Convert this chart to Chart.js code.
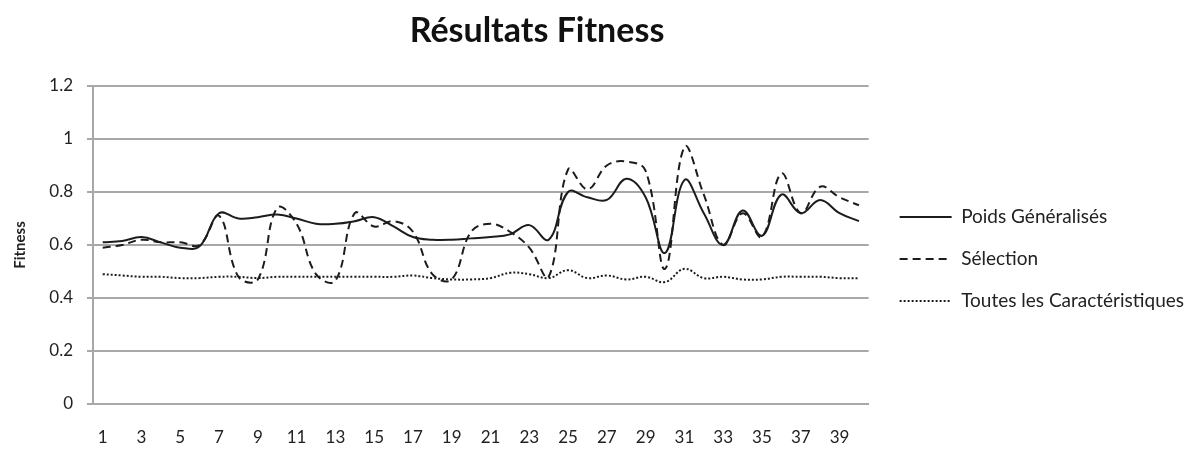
<!DOCTYPE html>
<html>
<head>
<meta charset="utf-8">
<script src="https://cdn.jsdelivr.net/npm/chart.js@4.4.0/dist/chart.umd.min.js"></script>
<style>
  body { margin: 0; background: #fff; }
  canvas { display: block; }
</style>
</head>
<body>
<canvas id="myChart" width="1194" height="450"></canvas>
<script>
const titleText = 'Résultats Fitness';
const yTitle = 'Fitness';

const labels = ['1','2','3','4','5','6','7','8','9','10',
                '11','12','13','14','15','16','17','18','19','20',
                '21','22','23','24','25','26','27','28','29','30',
                '31','32','33','34','35','36','37','38','39','40'];

const poidsGeneralises = [0.61, 0.615, 0.63, 0.61, 0.59, 0.595, 0.72, 0.70, 0.705, 0.715,
                          0.70, 0.68, 0.68, 0.69, 0.705, 0.67, 0.63, 0.62, 0.62, 0.625,
                          0.63, 0.64, 0.675, 0.62, 0.80, 0.78, 0.77, 0.85, 0.78, 0.57,
                          0.845, 0.72, 0.60, 0.73, 0.635, 0.79, 0.72, 0.77, 0.72, 0.69];

const selection = [0.59, 0.60, 0.62, 0.61, 0.61, 0.60, 0.71, 0.48, 0.47, 0.74,
                   0.68, 0.49, 0.465, 0.72, 0.67, 0.69, 0.65, 0.49, 0.47, 0.65,
                   0.68, 0.65, 0.59, 0.48, 0.885, 0.81, 0.90, 0.915, 0.88, 0.51,
                   0.97, 0.79, 0.60, 0.72, 0.63, 0.87, 0.72, 0.82, 0.78, 0.75];

const toutesCaracteristiques = [0.49, 0.485, 0.48, 0.48, 0.475, 0.475, 0.48, 0.48, 0.475, 0.48,
                                0.48, 0.48, 0.48, 0.48, 0.48, 0.48, 0.485, 0.475, 0.47, 0.47,
                                0.475, 0.495, 0.49, 0.475, 0.505, 0.475, 0.485, 0.47, 0.48, 0.46,
                                0.51, 0.475, 0.48, 0.47, 0.47, 0.48, 0.48, 0.48, 0.475, 0.475];

const seriesNames = ['Poids Généralisés', 'Sélection', 'Toutes les Caractéristiques'];
const seriesDash = [[], [8, 5], [2, 2]];

const lineColor = '#1c1c1c';
const gridColor = '#a8a8a8';
const fontName = 'Lato, "Liberation Sans", sans-serif';

// titre dessiné à la main, décalé comme dans l'original
const titlePlugin = {
    id: 'titreFitness',
    afterDraw(chart) {
        const ctx = chart.ctx;
        ctx.save();
        ctx.font = 'bold 34px ' + fontName;
        ctx.fillStyle = '#111';
        ctx.textAlign = 'center';
        ctx.textBaseline = 'middle';
        ctx.fillText(titleText, 537, 31);
        ctx.restore();
    }
};

const data = {
    labels: labels,
    datasets: [0, 1, 2].map(i => ({
        label: seriesNames[i],
        data: [poidsGeneralises, selection, toutesCaracteristiques][i],
        borderColor: lineColor,
        borderWidth: 2,
        borderDash: seriesDash[i]
    }))
};

const config = {
    type: 'line',
    data: data,
    plugins: [titlePlugin],
    options: {
        responsive: false,
        animation: false,
        layout: { padding: { top: 86, left: 7, right: 0, bottom: 0 } },
        elements: {
            line: { tension: 0.4, fill: false, backgroundColor: 'transparent' },
            point: { radius: 0 }
        },
        plugins: {
            tooltip: { enabled: false },
            legend: {
                position: 'right',
                fullSize: false,
                maxWidth: 340,
                title: { display: true, text: ' ', padding: 0, font: { size: 20, lineHeight: 1.4 } },
                labels: {
                    usePointStyle: true,
                    pointStyle: 'line',
                    pointStyleWidth: 52,
                    color: '#222',
                    padding: 23,
                    font: { family: fontName, size: 19 },
                    generateLabels(chart) {
                        const items = Chart.defaults.plugins.legend.labels.generateLabels(chart);
                        items.forEach((it, i) => {
                            it.lineDash = seriesDash[i];
                            it.strokeStyle = lineColor;
                            it.lineWidth = 2;
                        });
                        return items;
                    }
                }
            }
        },
        scales: {
            x: {
                offset: true,
                grid: { display: false },
                border: { display: true, color: gridColor, width: 2 },
                afterFit: (scale) => { scale.height = 46; },
                ticks: {
                    autoSkip: false,
                    maxRotation: 0,
                    padding: 15,
                    color: '#222',
                    font: { family: fontName, size: 17 },
                    callback: function(value, index) {
                        return index % 2 === 0 ? this.getLabelForValue(value) : '';
                    }
                }
            },
            y: {
                min: 0,
                max: 1.2,
                afterFit: (scale) => { scale.width = 86; },
                ticks: {
                    stepSize: 0.2,
                    padding: 14,
                    color: '#222',
                    font: { family: fontName, size: 17 },
                    callback: (v) => String(parseFloat(v.toFixed(1)))
                },
                grid: { color: gridColor, lineWidth: 2, tickLength: 6 },
                border: { display: true, color: gridColor, width: 2 },
                title: {
                    display: true,
                    text: yTitle,
                    color: '#222',
                    padding: { top: 4, bottom: 4 },
                    font: { family: fontName, size: 15, weight: 'bold' }
                }
            },
            // petit espace entre le graphe et la légende
            espace: {
                type: 'linear',
                position: 'right',
                grid: { display: false },
                border: { display: false },
                ticks: { display: false },
                afterFit: (scale) => { scale.width = 8; }
            }
        }
    }
};

const ctx = document.getElementById('myChart').getContext('2d');
const myChart = new Chart(ctx, config);
</script>
</body>
</html>
